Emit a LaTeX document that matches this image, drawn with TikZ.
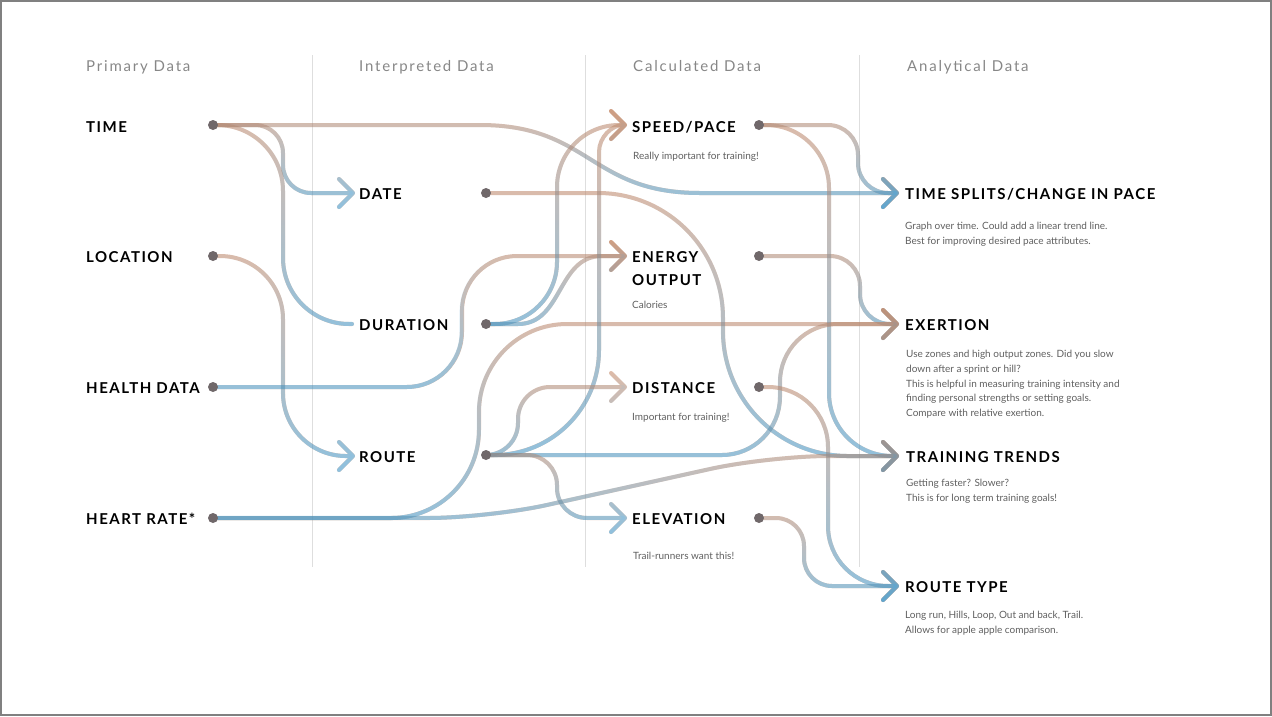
\documentclass[tikz,border=0pt]{standalone}
\usepackage{fontspec}
\setmainfont{Lato}
\newfontfamily\labfont[LetterSpace=10]{Lato}
\newfontfamily\headfont[LetterSpace=12]{Lato}
\usetikzlibrary{arrows.meta,fadings}
\definecolor{cbrown}{RGB}{198,138,106}
\definecolor{cblue}{RGB}{62,148,198}
\definecolor{cdot}{RGB}{112,104,106}
\definecolor{chead}{RGB}{135,135,135}
\definecolor{cdesc}{RGB}{95,95,95}
\definecolor{cgrid}{RGB}{222,222,222}
\definecolor{cframe}{RGB}{128,128,128}
\tikzfading[name=fs, top color=transparent!100, bottom color=transparent!0]
\newcommand\conn[4]{%
  \begin{scope}[transparency group, opacity=0.58]
    \draw[flow,cbrown,#1] (#2) #3;
    \draw[flow,cblue,#1,path fading=fs] ([shift={(-14,-14)}]#2) ([shift={(14,14)}]#2) ([shift={(-14,-14)}]#4) ([shift={(14,14)}]#4) (#2) #3;
  \end{scope}}
\begin{document}
\begin{tikzpicture}[x=1pt,y=-1pt,
  flow/.style={line width=4, line cap=round, line join=round},
  chev/.style={-{Straight Barb[length=14pt,width=28pt,round]}},
  dot/.style={circle, fill=cdot, inner sep=0, minimum size=10},
  lab/.style={anchor=base west, inner sep=0, font=\labfont\bfseries\fontsize{15}{18}\selectfont},
  head/.style={anchor=base west, inner sep=0, text=chead, font=\headfont\fontsize{15}{17}\selectfont},
  desc/.style={anchor=base west, inner sep=0, text=cdesc, align=left, font=\fontsize{10}{15}\selectfont}]
\useasboundingbox (0,0) rectangle (1272,716);
\draw[cframe, line width=2] (1,1) rectangle (1271,715);
\foreach \gx in {312,585,859} \draw[cgrid, line width=1] (\gx,55) -- (\gx,567);

% headers
\node[head] (hPrim) at (86,71) {Primary Data};
\node[head] (hInt) at (359,71) {Interpreted Data};
\node[head] (hCalc) at (633,71) {Calculated Data};
\node[head] (hAna) at (907,71) {Analytical Data};

% dot positions
\coordinate (pTime) at (213,125);
\coordinate (pLoc) at (213,256);
\coordinate (pHealth) at (213,387);
\coordinate (pHeart) at (213,518);
\coordinate (pDate) at (486,193);
\coordinate (pDur) at (486,324);
\coordinate (pRoute) at (486,455);
\coordinate (pSpeed) at (759,125);
\coordinate (pEnergy) at (759,256);
\coordinate (pDist) at (759,387);
\coordinate (pElev) at (759,518);
% target positions
\coordinate (tDate) at (355,193);
\coordinate (tDur) at (352,324);
\coordinate (tRoute) at (355,456);
\coordinate (tSpeed) at (627,125);
\coordinate (tEnergy) at (627,256);
\coordinate (tDist) at (627,387);
\coordinate (tElev) at (627,518);
\coordinate (tSplits) at (899,193);
\coordinate (tExert) at (899,324);
\coordinate (tTrain) at (899,456);
\coordinate (tRType) at (899,586);

% connectors
\conn{chev}{pTime}{[rounded corners=28] -| (283,193) -- (tDate)}{tDate}
\conn{}{pTime}{[rounded corners=66] -| (283,324) -- (tDur)}{tDur}
\conn{chev}{pTime}{-- (480,125) .. controls (590,125) and (590,193) .. (700,193) -- (tSplits)}{tSplits}
\conn{chev}{pLoc}{[rounded corners=63] -| (283,456) -- (tRoute)}{tRoute}
\conn{chev}{pHealth}{[rounded corners=55] -| (462,256) -- (tEnergy)}{tEnergy}
\conn{chev}{pEnergy}{[rounded corners=30] -| (860,324) -- (tExert)}{tExert}
\conn{chev}{pHeart}{[rounded corners=88] -| (479,324) -- (tExert)}{tExert}
\conn{chev}{pDate}{[rounded corners=125] -| (723,456) -- (tTrain)}{tTrain}
\conn{chev}{pSpeed}{[rounded corners=63] -| (829,456) -- (tTrain)}{tTrain}
\conn{chev}{pHeart}{[rounded corners=60] -- (488,518) -- (769,456) -- (tTrain)}{tTrain}
\conn{chev}{pDur}{[rounded corners=62] -| (557,125) -- (tSpeed)}{tSpeed}
\conn{chev}{pDur}{-- (518,324) .. controls (563,324) and (557,256) .. (602,256) -- (tEnergy)}{tEnergy}
\conn{chev}{pRoute}{-- (494,455) .. controls (552,455) and (599,408) .. (599,350) -- (599,152) .. controls (599,137) and (612,125) .. (tSpeed)}{tSpeed}
\conn{chev}{pRoute}{[rounded corners=32] -| (518,387) -- (tDist)}{tDist}
\conn{chev}{pRoute}{[rounded corners=58] -| (780,324) -- (tExert)}{tExert}
\conn{chev}{pRoute}{[rounded corners=30] -| (557,518) -- (tElev)}{tElev}
\conn{chev}{pSpeed}{[rounded corners=30] -| (858,193) -- (tSplits)}{tSplits}
\conn{chev}{pDist}{[rounded corners=60] -| (828,586) -- (tRType)}{tRType}
\conn{chev}{pElev}{[rounded corners=28] -| (804,586) -- (tRType)}{tRType}

% dots
\foreach \d in {Time,Loc,Health,Heart,Date,Dur,Route,Speed,Energy,Dist,Elev}
  \node[dot] (n\d) at (p\d) {};

% labels
\node[lab] (lTime) at (86,132) {TIME};
\node[lab] (lLoc) at (86,262) {LOCATION};
\node[lab] (lHealth) at (86,393) {HEALTH DATA};
\node[lab] (lHeart) at (86,524) {HEART RATE*};
\node[lab] (lDate) at (359,199) {DATE};
\node[lab] (lDur) at (359,330) {DURATION};
\node[lab] (lRoute) at (359,462) {ROUTE};
\node[lab] (lSpeed) at (632,132) {SPEED/PACE};
\node[lab] (lEnergy) at (632,262) {ENERGY};
\node[lab] (lOutput) at (632,285) {OUTPUT};
\node[lab] (lDist) at (632,393) {DISTANCE};
\node[lab] (lElev) at (632,524) {ELEVATION};
\node[lab] (lSplits) at (905,199) {TIME SPLITS/CHANGE IN PACE};
\node[lab] (lExert) at (905,330) {EXERTION};
\node[lab] (lTrain) at (906,462) {TRAINING TRENDS};
\node[lab] (lRType) at (905,592) {ROUTE TYPE};

% descriptions (base anchor = last line)
\node[desc] (dSpeed) at (633,159) {Really important for training!};
\node[desc] (dEnergy) at (632,308.5) {Calories};
\node[desc] (dDist) at (632,420.5) {Important for training!};
\node[desc] (dElev) at (633,559.5) {Trail-runners want this!};
\node[desc] (dSplits) at (905,244.5) {Graph over time. Could add a linear trend line.\\Best for improving desired pace attributes.};
\node[desc, font=\fontsize{10}{14.8}\selectfont] (dExert) at (906,416.7) {Use zones and high output zones. Did you slow\\down after a sprint or hill?\\This is helpful in measuring training intensity and\\finding personal strengths or setting goals.\\Compare with relative exertion.};
\node[desc] (dTrain) at (906,501.5) {Getting faster? Slower?\\This is for long term training goals!};
\node[desc] (dRType) at (905,633.5) {Long run, Hills, Loop, Out and back, Trail.\\Allows for apple apple comparison.};
\end{tikzpicture}
\end{document}
